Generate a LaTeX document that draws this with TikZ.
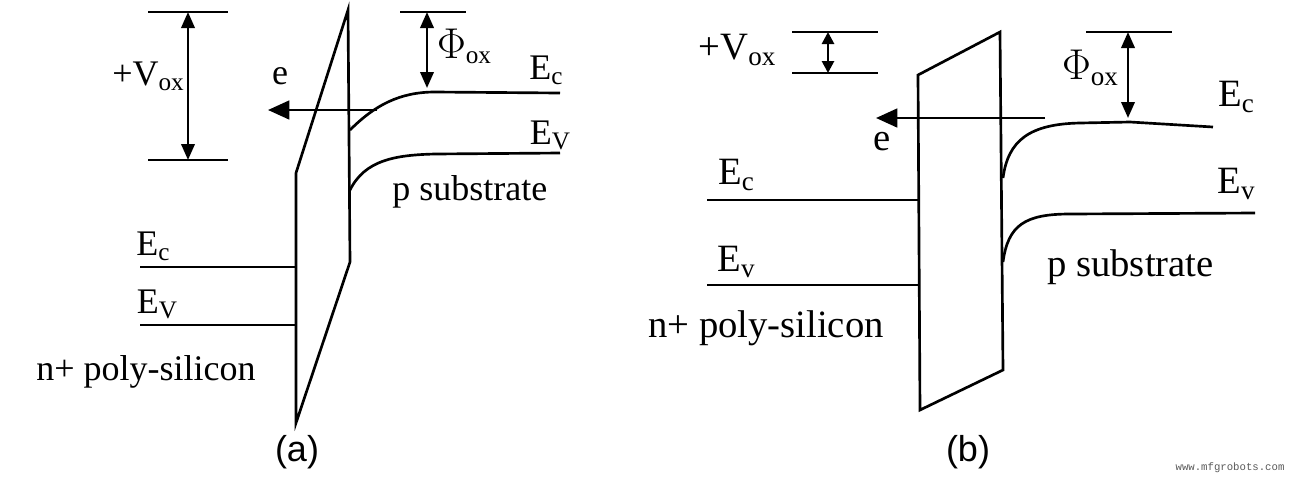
\documentclass[tikz,border=0pt]{standalone}
\usepackage{fontspec}
\setmainfont{Liberation Serif}
\setsansfont{Liberation Sans}
\setmonofont{Liberation Mono}
\usetikzlibrary{arrows.meta}
\newcommand{\sbx}[1]{\raisebox{-0.3ex}{\fontsize{0.7em}{0.7em}\selectfont #1}}
\newcommand{\bigphi}{\scalebox{1.3}{\(\Phi\)}}
\begin{document}
\begin{tikzpicture}[x=0.75pt,y=-0.75pt,
  band/.style={line width=2pt},
  dbl/.style={line width=2pt,{Triangle[length=12pt,width=10pt]}-{Triangle[length=12pt,width=10pt]}},
  sgl/.style={line width=2pt,-{Triangle[length=16pt,width=14pt]}},
  lab/.style={font=\fontsize{27}{29}\selectfont,inner sep=0pt},
  labb/.style={font=\fontsize{29}{31}\selectfont,inner sep=0pt}]
\useasboundingbox (0,0) rectangle (1300,480);
% ---------- (a) ----------
\coordinate (va1) at (148,12); \coordinate (va2) at (228,12);
\coordinate (vb1) at (148,160); \coordinate (vb2) at (228,160);
\draw[band] (va1)--(va2) (vb1)--(vb2);
\coordinate (vat) at (188,12); \coordinate (vab) at (188,160);
\draw[dbl] (vat)--(vab);
\node[lab] (vox) at (148,76) {+V\sbx{ox}};
\draw[band] (296,173)--(348,10)--(350,262)--(296,423)--cycle;
\coordinate (pa1) at (400,12); \coordinate (pa2) at (466,12);
\draw[band] (pa1)--(pa2);
\coordinate (pat) at (427,12); \coordinate (pab) at (427,88);
\draw[dbl] (pat)--(pab);
\node[lab] (phia) at (464,46) {\bigphi\sbx{ox}};
\draw[band] (350,130) .. controls (375,105) and (400,92) .. (435,92) -- (560,93);
\draw[band] (350,190) .. controls (365,160) and (395,155) .. (435,154) -- (560,153);
\node[lab] (eca) at (546,70) {E\sbx{c}};
\node[lab] (eva) at (550,135) {E\sbx{V}};
\node[lab,anchor=west] (psa) at (392,192) {p substrate};
\coordinate (ea1) at (377,110); \coordinate (ea2) at (268,110);
\draw[sgl] (ea1)--(ea2);
\node[lab] (ela) at (280,76) {e};
\coordinate (la1) at (140,267); \coordinate (la2) at (296,267);
\coordinate (lb1) at (140,325); \coordinate (lb2) at (296,325);
\draw[band] (la1)--(la2) (lb1)--(lb2);
\node[lab] (lea) at (153,246) {E\sbx{c}};
\node[lab] (leva) at (157,304) {E\sbx{V}};
\node[lab,anchor=west] (npa) at (36,372) {n+ poly-silicon};
\node[font=\sffamily\fontsize{27}{29}\selectfont] (capa) at (297,452) {(a)};
% ---------- (b) ----------
\draw[band] (918,75)--(1000,32)--(1003,370)--(920,410)--cycle;
\coordinate (vc1) at (792,32); \coordinate (vc2) at (878,32);
\coordinate (vd1) at (792,73); \coordinate (vd2) at (878,73);
\draw[band] (vc1)--(vc2) (vd1)--(vd2);
\coordinate (vct) at (828,32); \coordinate (vcb) at (828,73);
\draw[line width=2pt,{Triangle[length=9pt,width=9pt]}-{Triangle[length=9pt,width=9pt]}] (vct)--(vcb);
\node[labb] (voxb) at (737,50) {+V\sbx{ox}};
\coordinate (pb1) at (1086,32); \coordinate (pb2) at (1172,32);
\draw[band] (pb1)--(pb2);
\coordinate (pbt) at (1128,32); \coordinate (pbb) at (1128,118);
\draw[dbl] (pbt)--(pbb);
\node[labb] (phib) at (1090,68) {\bigphi\sbx{ox}};
\draw[band] (1003,178) .. controls (1008,140) and (1030,124) .. (1080,123) -- (1130,122) -- (1213,127);
\draw[band] (1003,262) .. controls (1008,225) and (1025,214) .. (1070,214) -- (1255,213);
\node[labb] (ecb) at (1236,97) {E\sbx{c}};
\node[labb] (evb) at (1236,184) {E\sbx{v}};
\node[labb,anchor=west] (psb) at (1047,267) {p substrate};
\coordinate (eb1) at (1045,118); \coordinate (eb2) at (876,118);
\draw[sgl] (eb1)--(eb2);
\node[labb] (elb) at (882,142) {e};
\coordinate (lc1) at (707,200); \coordinate (lc2) at (918,200);
\coordinate (ld1) at (707,285); \coordinate (ld2) at (918,285);
\draw[band] (lc1)--(lc2) (ld1)--(ld2);
\node[labb] (leb) at (736,175) {E\sbx{c}};
\node[labb] (levb) at (736,262) {E\sbx{v}};
\node[labb,anchor=west] (npb) at (648,328) {n+ poly-silicon};
\node[font=\sffamily\fontsize{27}{29}\selectfont] (capb) at (968,452) {(b)};
\node[font=\ttfamily\fontsize{8}{9}\selectfont,text=gray!70!black] (wm) at (1230,468) {www.mfgrobots.com};
\end{tikzpicture}
\end{document}
